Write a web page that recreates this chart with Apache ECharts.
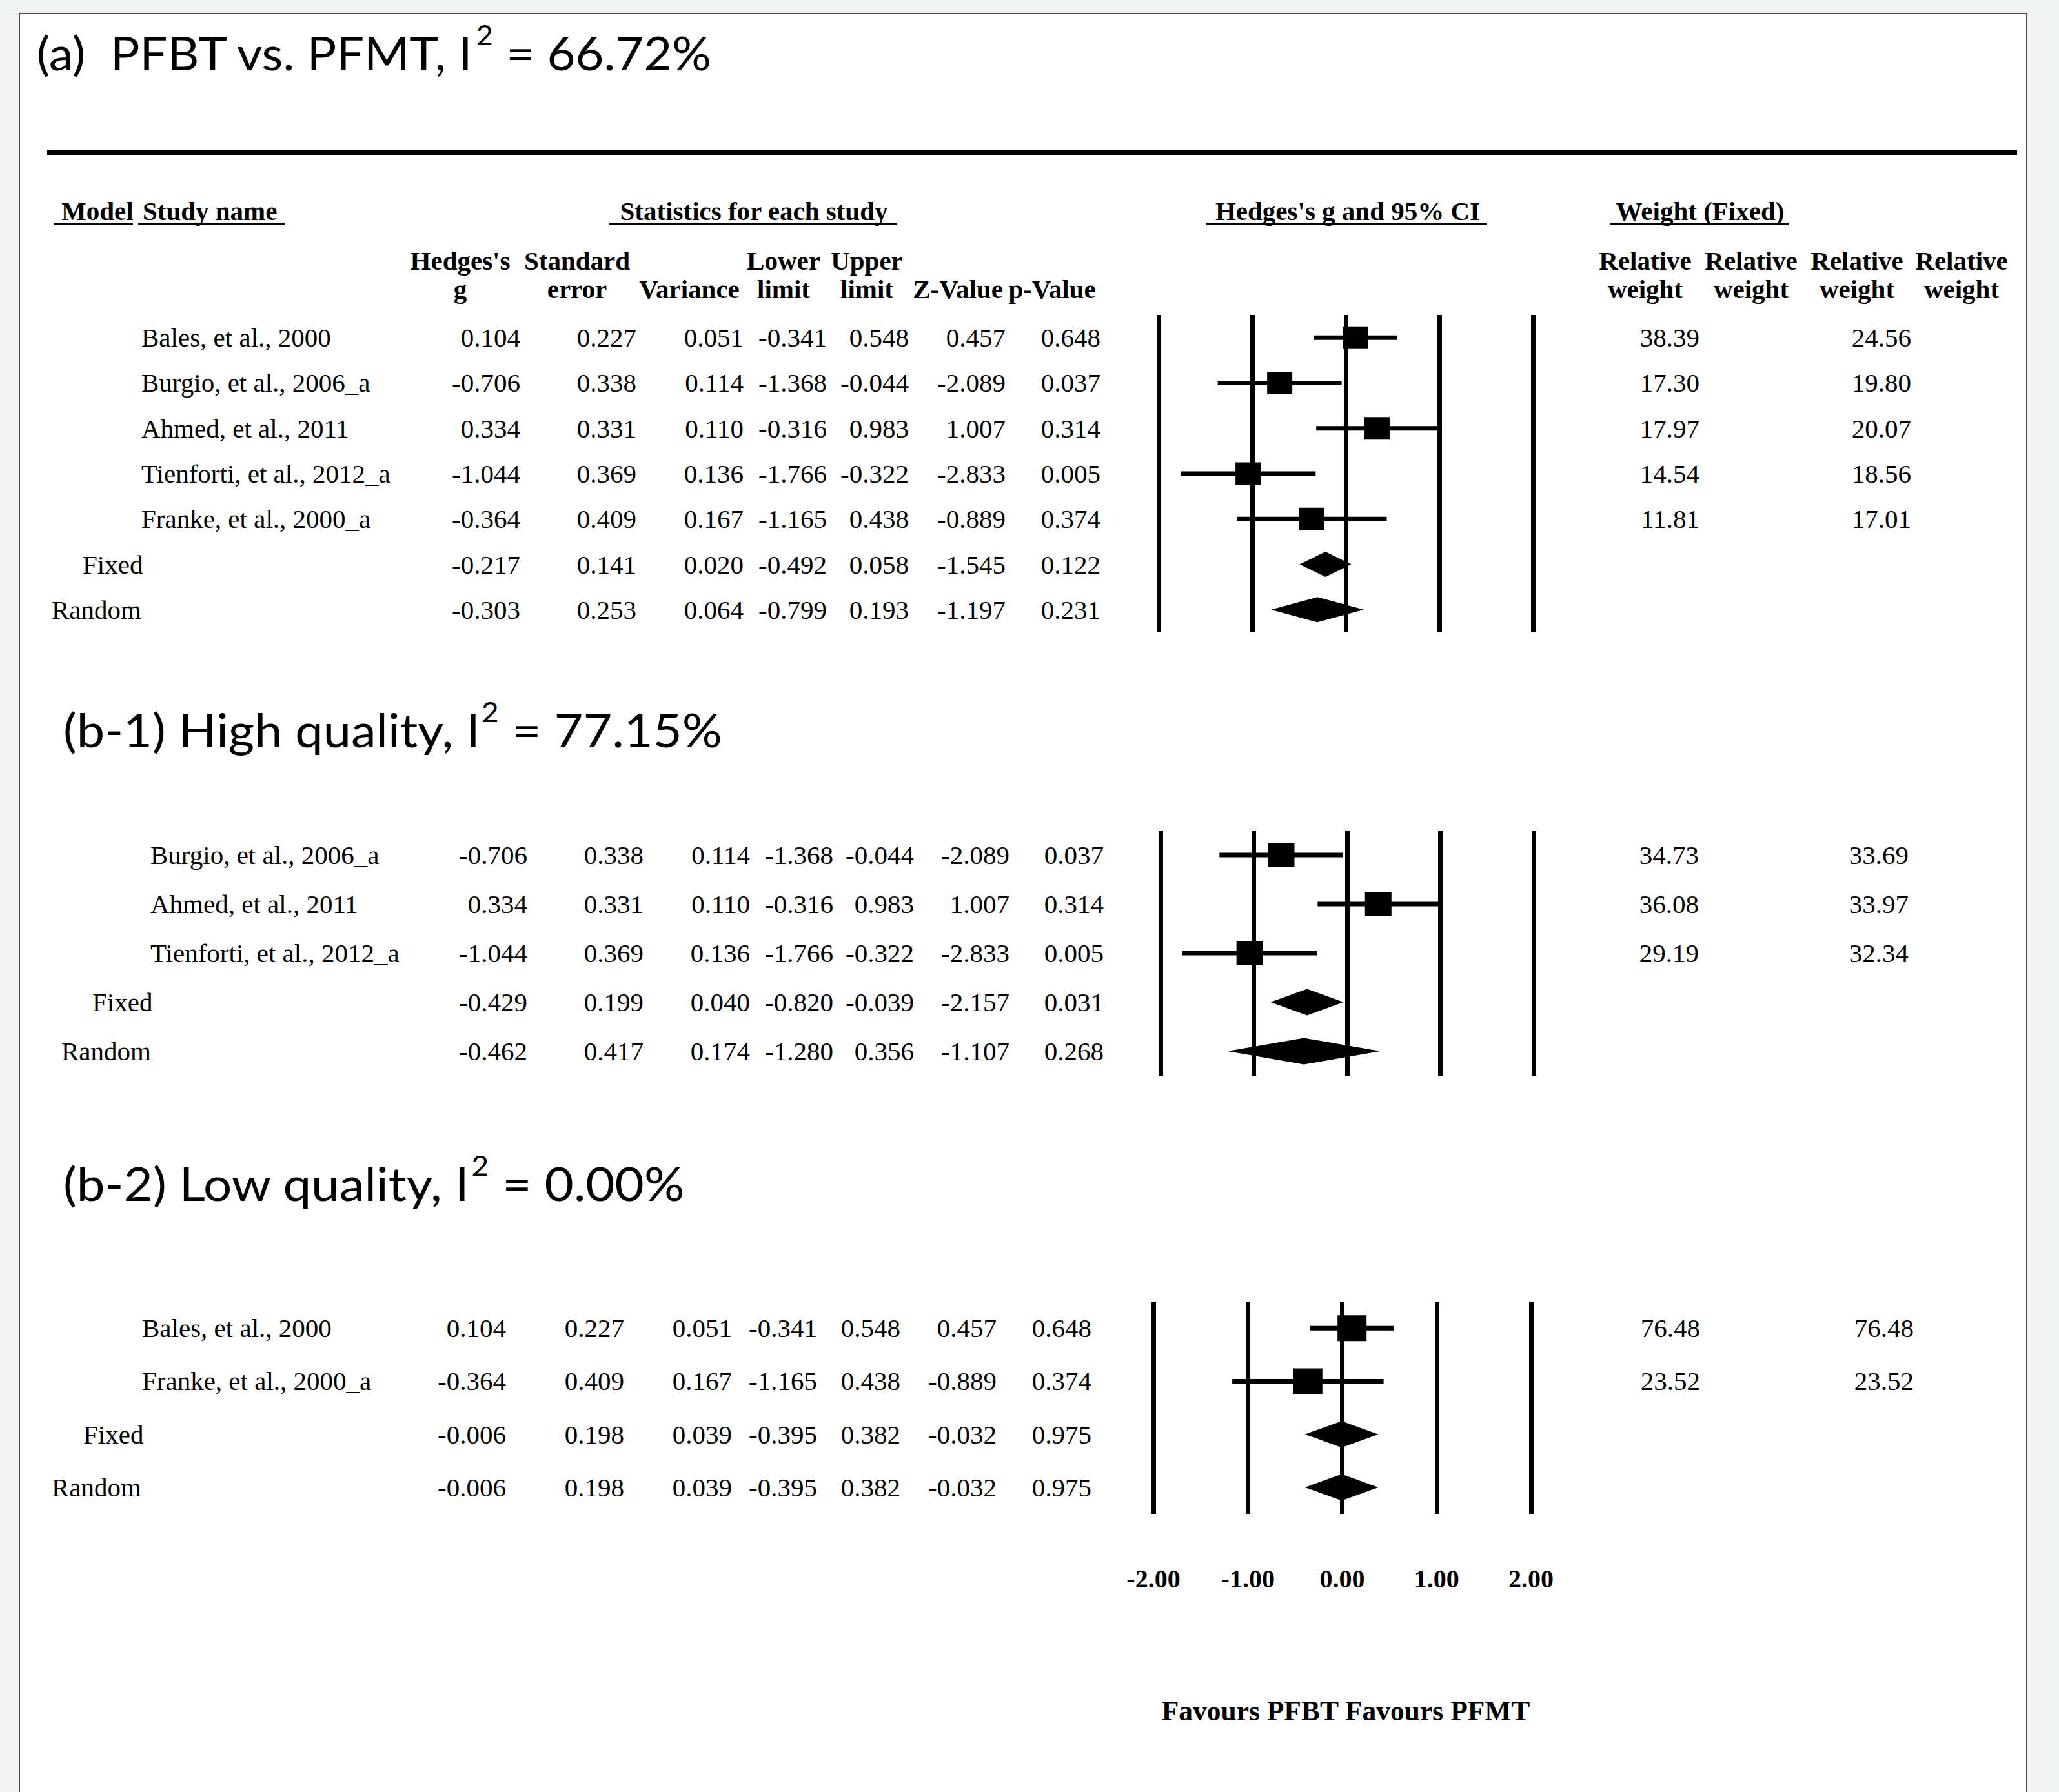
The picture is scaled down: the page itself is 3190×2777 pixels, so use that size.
<!DOCTYPE html>
<html>
<head>
<meta charset="utf-8">
<script src="https://cdn.jsdelivr.net/npm/echarts@6/dist/echarts.min.js"></script>
<style>
  html, body { margin: 0; padding: 0; background: #f0f2f2; overflow: hidden; }
  #frame { position: absolute; left: 29px; top: 20px; width: 3112px; height: 2820px; background: #fff; border: 2px solid #4a4a4a; box-sizing: border-box; }
  #chart { position: absolute; left: 0; top: 0; width: 3190px; height: 2777px; }
</style>
</head>
<body>
<div id="frame"></div>
<div id="chart"></div>
<script>
// ---------------- DATA ----------------
const tickValues = [-2, -1, 0, 1, 2];
const tickLabels = ['-2.00', '-1.00', '0.00', '1.00', '2.00'];
const models = ['Fixed', 'Random'];

// (a) PFBT vs. PFMT
const aTitle = ['(a)  PFBT vs. PFMT, I', '2', ' = 66.72%'];
const aStudies = ['Bales, et al., 2000', 'Burgio, et al., 2006_a', 'Ahmed, et al., 2011', 'Tienforti, et al., 2012_a', 'Franke, et al., 2000_a'];
const aG     = [0.104, -0.706, 0.334, -1.044, -0.364, -0.217, -0.303];
const aSE    = [0.227, 0.338, 0.331, 0.369, 0.409, 0.141, 0.253];
const aVar   = [0.051, 0.114, 0.110, 0.136, 0.167, 0.020, 0.064];
const aLower = [-0.341, -1.368, -0.316, -1.766, -1.165, -0.492, -0.799];
const aUpper = [0.548, -0.044, 0.983, -0.322, 0.438, 0.058, 0.193];
const aZ     = [0.457, -2.089, 1.007, -2.833, -0.889, -1.545, -1.197];
const aP     = [0.648, 0.037, 0.314, 0.005, 0.374, 0.122, 0.231];
const aW1    = [38.39, 17.30, 17.97, 14.54, 11.81];
const aW2    = [24.56, 19.80, 20.07, 18.56, 17.01];

// (b-1) High quality
const b1Title = ['(b-1) High quality, I', '2', ' = 77.15%'];
const b1Studies = ['Burgio, et al., 2006_a', 'Ahmed, et al., 2011', 'Tienforti, et al., 2012_a'];
const b1G     = [-0.706, 0.334, -1.044, -0.429, -0.462];
const b1SE    = [0.338, 0.331, 0.369, 0.199, 0.417];
const b1Var   = [0.114, 0.110, 0.136, 0.040, 0.174];
const b1Lower = [-1.368, -0.316, -1.766, -0.820, -1.280];
const b1Upper = [-0.044, 0.983, -0.322, -0.039, 0.356];
const b1Z     = [-2.089, 1.007, -2.833, -2.157, -1.107];
const b1P     = [0.037, 0.314, 0.005, 0.031, 0.268];
const b1W1    = [34.73, 36.08, 29.19];
const b1W2    = [33.69, 33.97, 32.34];

// (b-2) Low quality
const b2Title = ['(b-2) Low quality, I', '2', ' = 0.00%'];
const b2Studies = ['Bales, et al., 2000', 'Franke, et al., 2000_a'];
const b2G     = [0.104, -0.364, -0.006, -0.006];
const b2SE    = [0.227, 0.409, 0.198, 0.198];
const b2Var   = [0.051, 0.167, 0.039, 0.039];
const b2Lower = [-0.341, -1.165, -0.395, -0.395];
const b2Upper = [0.548, 0.438, 0.382, 0.382];
const b2Z     = [0.457, -0.889, -0.032, -0.032];
const b2P     = [0.648, 0.374, 0.975, 0.975];
const b2W1    = [76.48, 23.52];
const b2W2    = [76.48, 23.52];

const headerTop = ['Model', 'Study name', 'Statistics for each study', "Hedges's g and 95% CI", 'Weight (Fixed)'];
const subHeaders = [["Hedges's", 'g'], ['Standard', 'error'], ['', 'Variance'], ['Lower', 'limit'], ['Upper', 'limit'], ['', 'Z-Value'], ['', 'p-Value'],
                    ['Relative', 'weight'], ['Relative', 'weight'], ['Relative', 'weight'], ['Relative', 'weight']];
const axisTitle = 'Favours PFBT Favours PFMT';

// ---------------- LAYOUT ----------------
const SERIF = '"Liberation Serif", "Times New Roman", serif';
const SANS = 'Lato, "Open Sans", sans-serif';
const dataFont = '41px ' + SERIF;
const boldFont = 'bold 41px ' + SERIF;
const titleSize = 71, supSize = 42;

const sections = [
  { title: aTitle, titleX: 57, titleY: 82, titleScale: 1.067, studies: aStudies,
    cols: [aG, aSE, aVar, aLower, aUpper, aZ, aP], w1: aW1, w2: aW2,
    grid: { left: 1795, width: 580, top: 488, height: 492 },
    nameX: 219, fixedX: 128, randomX: 80,
    colX: [806, 986, 1152, 1281, 1408, 1558, 1705], w1X: 2633, w2X: 2961,
    sq: [39, 35], dh: 39 },
  { title: b1Title, titleX: 98, titleY: 1131, titleScale: 1.093, studies: b1Studies,
    cols: [b1G, b1SE, b1Var, b1Lower, b1Upper, b1Z, b1P], w1: b1W1, w2: b1W2,
    grid: { left: 1798, width: 578, top: 1287, height: 380 },
    nameX: 233, fixedX: 143, randomX: 95,
    colX: [817, 997, 1162, 1291, 1416, 1564, 1710], w1X: 2632, w2X: 2957,
    sq: [41, 38], dh: 41 },
  { title: b2Title, titleX: 98, titleY: 1833, titleScale: 1.10, studies: b2Studies,
    cols: [b2G, b2SE, b2Var, b2Lower, b2Upper, b2Z, b2P], w1: b2W1, w2: b2W2,
    grid: { left: 1787, width: 585, top: 2017, height: 329 },
    nameX: 220, fixedX: 129, randomX: 80,
    colX: [784, 967, 1134, 1266, 1395, 1544, 1691], w1X: 2634, w2X: 2965,
    sq: [45, 40], dh: 41 }
];

const ctx = document.createElement('canvas').getContext('2d');
function textWidth(font, s) { ctx.font = font; return ctx.measureText(s).width; }

function txt(x, y, text, font, align, vAlign) {
  return { type: 'text', x: x, y: y, silent: true,
    style: { text: text, font: font, fill: '#000', align: align || 'left', textAlign: align || 'left',
             verticalAlign: vAlign || 'middle', textVerticalAlign: vAlign || 'middle' } };
}
function rect(x, y, w, h) {
  return { type: 'rect', silent: true, shape: { x: x, y: y, width: w, height: h }, style: { fill: '#000' } };
}

// ---------------- GRAPHIC (titles, headers) ----------------
const graphics = [];
sections.forEach(function (s) {
  const f1 = titleSize + 'px ' + SANS, f2 = supSize + 'px ' + SANS;
  const w1 = textWidth(f1, s.title[0]);
  const w2 = textWidth(f2, s.title[1]);
  graphics.push({ type: 'group', x: s.titleX, y: s.titleY, scaleX: s.titleScale, silent: true, children: [
    txt(0, 0, s.title[0], f1),
    txt(w1 + 2, -28, s.title[1], f2),
    txt(w1 + w2 + 3, 0, s.title[2], f1)
  ] });
});
// horizontal rule
graphics.push(rect(73, 233, 3052, 7));
// top headers with underlines
const headerPos = [[95, 'left', 84, 206], [221, 'left', 214, 441], [1168, 'center', 944, 1389], [2088, 'center', 1869, 2304], [2634, 'center', 2494, 2771]];
headerTop.forEach(function (h, i) {
  const p = headerPos[i];
  graphics.push(txt(p[0], 327, h, boldFont, p[1]));
  graphics.push(rect(p[2], 345, p[3] - p[2], 4));
});
const subX = [713, 894, 1068, 1214, 1343, 1484, 1630, 2549, 2713, 2877, 3039];
subHeaders.forEach(function (h, i) {
  if (h[0]) graphics.push(txt(subX[i], 404, h[0], boldFont, 'center'));
  if (h[1]) graphics.push(txt(subX[i], 448, h[1], boldFont, 'center'));
});
graphics.push(txt(2085, 2651, axisTitle, 'bold 43.5px ' + SERIF, 'center'));

// ---------------- SERIES ----------------
const grids = [], xAxes = [], yAxes = [], series = [];
sections.forEach(function (s, si) {
  const rows = s.studies.concat(models);
  const nStudies = s.studies.length;
  grids.push(s.grid);
  xAxes.push({
    type: 'value', gridIndex: si, min: tickValues[0], max: tickValues[tickValues.length - 1], interval: 1,
    axisLine: { show: false }, axisTick: { show: false },
    splitLine: { show: true, lineStyle: { color: '#000', width: 7 } },
    axisLabel: {
      show: si === sections.length - 1, margin: 80, color: '#000',
      fontFamily: SERIF, fontWeight: 'bold', fontSize: 40,
      formatter: function (v) { const k = tickValues.indexOf(v); return k >= 0 ? tickLabels[k] : ''; }
    }
  });
  yAxes.push({ type: 'category', gridIndex: si, data: rows, inverse: true, show: false });

  // forest marks
  const forestData = rows.map(function (_, i) {
    return [s.cols[0][i], i, s.cols[3][i], s.cols[4][i], i < nStudies ? 0 : 1];
  });
  series.push({
    type: 'custom', xAxisIndex: si, yAxisIndex: si, data: forestData, z: 5,
    encode: { x: [0, 2, 3], y: 1 },
    renderItem: function (params, api) {
      const g = api.value(0), idx = api.value(1), lo = api.value(2), hi = api.value(3), kind = api.value(4);
      const c = api.coord([g, idx]), l = api.coord([lo, idx]), h = api.coord([hi, idx]);
      if (kind === 0) {
        return { type: 'group', children: [
          { type: 'rect', shape: { x: l[0], y: c[1] - 3.5, width: h[0] - l[0], height: 7 }, style: { fill: '#000' } },
          { type: 'rect', shape: { x: c[0] - s.sq[0] / 2, y: c[1] - s.sq[1] / 2, width: s.sq[0], height: s.sq[1] }, style: { fill: '#000' } }
        ] };
      }
      return { type: 'polygon', shape: { points: [[l[0], c[1]], [c[0], c[1] - s.dh / 2], [h[0], c[1]], [c[0], c[1] + s.dh / 2]] }, style: { fill: '#000' } };
    }
  });

  // table text
  const tableData = rows.map(function (_, i) { return [0, i]; });
  series.push({
    type: 'custom', xAxisIndex: si, yAxisIndex: si, data: tableData, z: 5,
    encode: { x: 0, y: 1 },
    renderItem: function (params, api) {
      const i = params.dataIndex;
      const y = api.coord([0, api.value(1)])[1];
      const children = [];
      if (i < nStudies) children.push(txt(s.nameX, y, rows[i], dataFont));
      else children.push(txt(i === nStudies ? s.fixedX : s.randomX, y, rows[i], dataFont));
      s.cols.forEach(function (col, ci) {
        children.push(txt(s.colX[ci], y, col[i].toFixed(3), dataFont, 'right'));
      });
      if (i < nStudies) {
        children.push(txt(s.w1X, y, s.w1[i].toFixed(2), dataFont, 'right'));
        children.push(txt(s.w2X, y, s.w2[i].toFixed(2), dataFont, 'right'));
      }
      return { type: 'group', children: children };
    }
  });
});

const chart = echarts.init(document.getElementById('chart'), null, { renderer: 'svg', width: 3190, height: 2777 });
chart.setOption({
  animation: false,
  backgroundColor: 'transparent',
  grid: grids, xAxis: xAxes, yAxis: yAxes, series: series,
  graphic: { elements: graphics }
});
</script>
</body>
</html>
